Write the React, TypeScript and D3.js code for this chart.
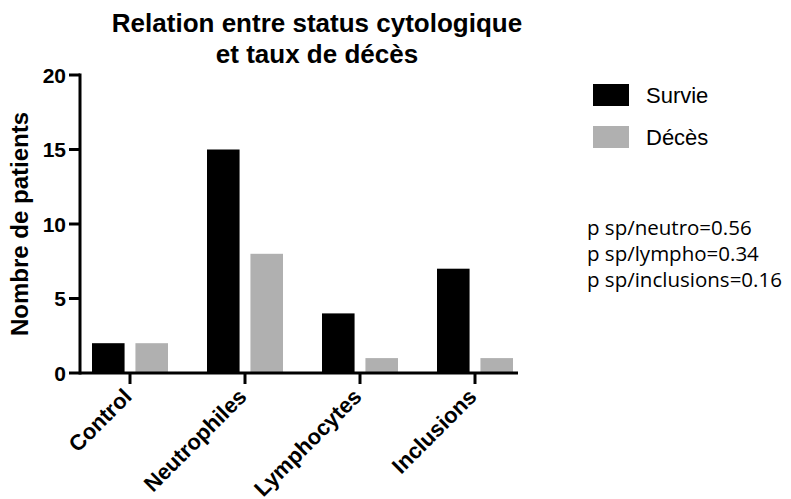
import React from "react";
import * as d3 from "d3";

const categories = ["Control", "Neutrophiles", "Lymphocytes", "Inclusions"];
const seriesNames = ["Survie", "Décès"];
const survie = [2, 15, 4, 7];
const deces = [2, 8, 1, 1];
const yTicks = [0, 5, 10, 15, 20];
const pValues = ["p sp/neutro=0.56", "p sp/lympho=0.34", "p sp/inclusions=0.16"];
const colors = ["#000000", "#b0b0b0"];

export default function App() {
  const W = 791, H = 499;
  const y = d3.scaleLinear().domain([0, 20]).range([373, 75]);
  const x0 = d3.scaleBand<string>().domain(categories).range([72.5, 532.5]).paddingInner(0).paddingOuter(0);
  const x1 = d3.scaleBand<string>().domain(seriesNames).range([19.5, 95.5]).paddingInner(0.25);
  const data = [survie, deces];
  const font = "Liberation Sans, Arial, sans-serif";
  return (
    <svg width={W} height={H} style={{ position: "absolute", left: 0, top: 0 }}>
      <rect width={W} height={H} fill="#fff" />
      <text x={317} y={32} textAnchor="middle" fontFamily={font} fontWeight="bold" fontSize={26}>Relation entre status cytologique</text>
      <text x={317} y={63} textAnchor="middle" fontFamily={font} fontWeight="bold" fontSize={26}>et taux de décès</text>
      {data.map((vals, si) =>
        vals.map((v, i) => (
          <rect key={`${si}-${i}`} x={(x0(categories[i]) ?? 0) + (x1(seriesNames[si]) ?? 0)} y={y(v)} width={x1.bandwidth()} height={y(0) - y(v)} fill={colors[si]} />
        ))
      )}
      <line x1={80} x2={80} y1={y(20) - 1.5} y2={y(0) + 1.5} stroke="#000" strokeWidth={3} />
      <line x1={80} x2={518} y1={y(0)} y2={y(0)} stroke="#000" strokeWidth={3} />
      {yTicks.map((t) => (
        <g key={t}>
          <line x1={69} x2={80} y1={y(t)} y2={y(t)} stroke="#000" strokeWidth={3} />
          <text x={66} y={y(t)} dy="0.36em" textAnchor="end" fontFamily={font} fontWeight="bold" fontSize={21}>{t}</text>
        </g>
      ))}
      {categories.map((c) => {
        const cx = (x0(c) ?? 0) + x0.bandwidth() / 2;
        return (
          <g key={c}>
            <line x1={cx} x2={cx} y1={y(0)} y2={y(0) + 11} stroke="#000" strokeWidth={3} />
            <text transform={`translate(${cx + 3},${y(0) + 25}) rotate(-45)`} textAnchor="end" fontFamily={font} fontWeight="bold" fontSize={22}>{c}</text>
          </g>
        );
      })}
      <text transform={`translate(28,${y(10)}) rotate(-90)`} textAnchor="middle" fontFamily={font} fontWeight="bold" fontSize={24}>Nombre de patients</text>
      {seriesNames.map((s, i) => (
        <g key={s}>
          <rect x={593} y={84 + i * 42} width={36} height={22} fill={colors[i]} />
          <text x={646} y={103 + i * 42} fontFamily={font} fontSize={22}>{s}</text>
        </g>
      ))}
      {pValues.map((p, i) => (
        <text key={p} x={587} y={235 + i * 26} fontFamily="Open Sans, sans-serif" fontSize={20.5}>{p}</text>
      ))}
    </svg>
  );
}
